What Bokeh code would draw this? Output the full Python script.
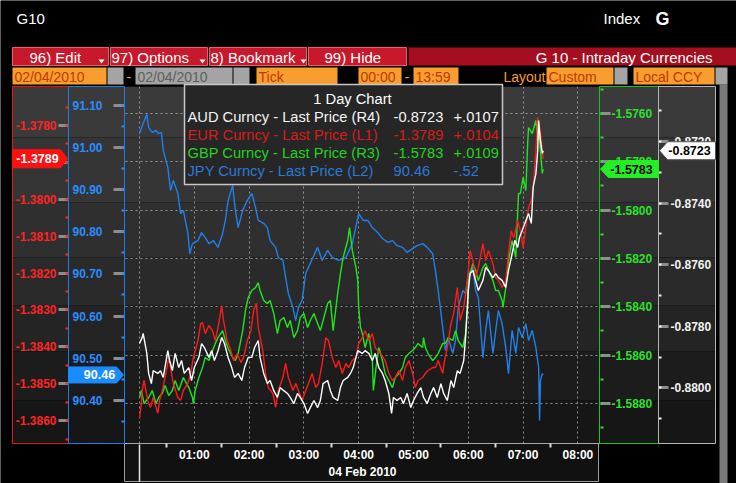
from bokeh.plotting import figure
from bokeh.models import (Range1d, LinearAxis, SingleIntervalTicker, FixedTicker,
                          PrintfTickFormatter, BoxAnnotation, PolyAnnotation, Label)
from bokeh.embed import file_html
from bokeh.resources import INLINE

# ---------------- data ----------------
hour_ticks = [60, 120, 180, 240, 300, 360, 420, 480]
hour_labels = ["01:00", "02:00", "03:00", "04:00", "05:00", "06:00", "07:00", "08:00"]
half_ticks = [30, 90, 150, 210, 270, 330, 390, 450]
date_label = "04 Feb 2010"

names = ["AUD Curncy - Last Price (R4)", "EUR Curncy - Last Price (L1)",
         "GBP Curncy - Last Price (R3)", "JPY Curncy - Last Price (L2)"]
changes = [0.0107, 0.0104, 0.0109, -0.52]

# minutes after midnight, 04 Feb 2010
eur_t = [0,2,3,5,9,12,15,20,22,25,28,32,34,37,42,45,48,53,56,59,64,67,69,72,76,80,83,86,90,92,
         96,100,103,107,111,114,118,122,125,128,130,135,138,141,146,149,152,157,160,163,168,171,174,178,182,185,189,193,196,200,
         204,207,211,215,218,222,226,229,233,237,240,244,247,251,255,258,264,269,273,277,280,284,288,291,295,299,302,305,310,313,
         316,321,324,327,332,334,337,341,344,348,351,355,359,362,365,368,371,376,379,382,387,390,393,397,401,404,407,410,414,417,
         420,424,426,429,431,434,436,437,439,441,442]
eur_v = [-1.38594,-1.38553,-1.38518,-1.38491,-1.38545,-1.38564,-1.38537,-1.38580,-1.38545,-1.38518,
         -1.38483,-1.38429,-1.38456,-1.38499,-1.38537,-1.38545,-1.38518,-1.38499,-1.38472,-1.38429,
         -1.38383,-1.38337,-1.38334,-1.38364,-1.38342,-1.38356,-1.38383,-1.38347,-1.38288,-1.38328,
         -1.38383,-1.38410,-1.38437,-1.38418,-1.38442,-1.38429,-1.38383,-1.38356,-1.38301,-1.38282,
         -1.38347,-1.38410,-1.38472,-1.38510,-1.38526,-1.38564,-1.38518,-1.38483,-1.38445,-1.38483,
         -1.38518,-1.38499,-1.38518,-1.38545,-1.38518,-1.38499,-1.38472,-1.38510,-1.38499,-1.38445,
         -1.38375,-1.38383,-1.38429,-1.38456,-1.38437,-1.38472,-1.38445,-1.38456,-1.38437,-1.38429,
         -1.38391,-1.38375,-1.38356,-1.38383,-1.38364,-1.38402,-1.38418,-1.38437,-1.38472,-1.38491,
         -1.38483,-1.38464,-1.38491,-1.38456,-1.38437,-1.38472,-1.38510,-1.38491,-1.38483,-1.38472,
         -1.38464,-1.38456,-1.38456,-1.38437,-1.38472,-1.38437,-1.38402,-1.38337,-1.38309,-1.38239,
         -1.38328,-1.38293,-1.38220,-1.38139,-1.38166,-1.38212,-1.38185,-1.38120,-1.38166,-1.38139,
         -1.38174,-1.38212,-1.38220,-1.38239,-1.38220,-1.38147,-1.38085,-1.38104,-1.38057,-1.38085,
         -1.38131,-1.38057,-1.38022,-1.38003,-1.37968,-1.37868,-1.37778,-1.37792,-1.37822,-1.37868,
         -1.37890]

jpy_t = [0,3,8,10,14,18,21,24,26,31,34,37,42,45,48,53,55,58,64,68,72,76,81,86,91,94,97,102,105,108,
         113,118,123,127,130,136,140,143,149,152,157,160,163,168,171,174,178,182,187,195,200,206,211,218,226,233,
         240,245,250,255,261,266,272,277,282,288,293,299,304,310,315,321,324,327,332,335,338,343,346,349,354,357,
         360,365,368,371,376,379,382,387,390,393,397,401,404,408,412,415,419,423,426,430,434,437,438,439,441,442]
jpy_v = [91.033,91.052,91.079,91.048,91.036,91.041,91.033,91.036,90.993,90.953,90.898,90.922,90.891,90.843,90.851,
         90.796,90.748,90.772,90.779,90.798,90.786,90.772,90.779,90.763,90.796,90.827,90.874,90.910,90.851,90.810,
         90.851,90.874,90.891,90.858,90.827,90.820,90.810,90.779,90.763,90.739,90.732,90.691,90.653,90.620,90.589,
         90.620,90.637,90.701,90.725,90.763,90.732,90.756,90.739,90.732,90.739,90.772,
         90.843,90.827,90.827,90.810,90.798,90.784,90.775,90.779,90.767,90.763,90.751,90.760,90.767,90.772,
         90.763,90.748,90.708,90.661,90.573,90.518,90.549,90.511,90.542,90.620,90.661,90.653,
         90.701,90.715,90.661,90.644,90.501,90.566,90.613,90.511,90.566,90.613,90.582,90.525,90.463,90.566,
         90.511,90.573,90.549,90.582,90.542,90.566,90.525,90.478,90.352,90.447,90.463,90.46]

gbp_t = [0,2,5,10,14,18,21,25,28,32,36,39,43,48,54,58,59,61,65,69,72,76,80,83,86,91,94,97,102,105,108,113,
         116,119,123,127,130,132,136,140,143,147,151,154,158,162,165,169,173,176,180,184,187,191,195,198,201,
         206,209,212,217,220,223,228,230,233,237,239,240,242,244,247,251,255,256,259,262,266,269,273,277,280,
         284,288,291,295,299,302,305,310,311,313,316,321,324,327,332,335,338,343,346,349,354,357,359,360,
         365,368,371,376,379,382,387,390,393,397,398,401,404,408,412,414,415,417,420,423,425,426,430,434,436,
         437,439,441,442]
gbp_v = [-1.58776,-1.58747,-1.58801,-1.58776,-1.58747,-1.58801,-1.58776,-1.58759,-1.58726,-1.58768,-1.58747,
         -1.58706,-1.58747,-1.58693,-1.58735,-1.58776,-1.58801,-1.58747,-1.58693,-1.58652,-1.58610,-1.58623,
         -1.58581,-1.58552,-1.58528,-1.58499,-1.58540,-1.58573,-1.58610,-1.58623,-1.58594,-1.58499,
         -1.58416,-1.58362,-1.58333,-1.58321,-1.58300,-1.58333,-1.58374,-1.58387,-1.58374,-1.58428,-1.58511,
         -1.58457,-1.58445,-1.58486,-1.58457,-1.58528,-1.58499,-1.58445,-1.58428,-1.58486,-1.58457,-1.58428,
         -1.58470,-1.58499,-1.58457,
         -1.58387,-1.58374,-1.58499,-1.58345,-1.58263,-1.58196,-1.58126,-1.58072,-1.58167,-1.58238,-1.58292,
         -1.58403,-1.58486,-1.58511,-1.58569,-1.58511,-1.58623,-1.58747,-1.58652,-1.58569,-1.58623,-1.58677,
         -1.58706,-1.58735,-1.58693,
         -1.58677,-1.58652,-1.58610,-1.58594,-1.58581,-1.58569,-1.58552,-1.58569,-1.58528,-1.58569,-1.58594,
         -1.58623,-1.58610,-1.58594,-1.58552,-1.58552,-1.58528,-1.58540,-1.58499,-1.58540,-1.58569,-1.58511,
         -1.58403,-1.58292,
         -1.58221,-1.58250,-1.58292,-1.58238,-1.58221,-1.58250,-1.58292,-1.58333,-1.58333,-1.58374,-1.58403,
         -1.58321,-1.58209,-1.58126,-1.58196,-1.58014,-1.57931,-1.57931,-1.57865,-1.57919,-1.57724,-1.57658,
         -1.57683,-1.57629,-1.57712,
         -1.57658,-1.57753,-1.57848,-1.57830]

aud_t = [0,3,4,8,10,13,15,20,23,26,31,33,36,39,43,46,49,54,57,60,65,68,71,76,79,82,86,90,93,97,101,104,108,
         112,115,119,123,126,130,132,136,140,143,147,151,154,158,162,165,169,173,176,180,184,187,191,195,198,
         201,206,209,212,217,220,223,228,231,234,239,244,247,251,255,258,262,266,269,273,276,278,282,286,289,
         293,297,300,304,308,311,315,319,322,326,330,333,337,341,344,348,351,355,357,359,360,362,365,368,371,
         376,379,382,387,390,393,397,401,404,408,411,414,416,419,423,426,429,431,434,436,437,439,441,442]
aud_v = [-0.87856,-0.87836,-0.87823,-0.87888,-0.87953,-0.87986,-0.87944,-0.87953,-0.87944,-0.87966,-0.87879,
         -0.87911,-0.87944,-0.87888,-0.87934,-0.87911,-0.87953,-0.87934,-0.87976,-0.87934,-0.87901,-0.87856,
         -0.87869,-0.87901,-0.87879,-0.87911,-0.87879,-0.87836,-0.87856,-0.87901,-0.87934,-0.87966,-0.87953,
         -0.87976,-0.87934,-0.87901,-0.87901,-0.87869,-0.87846,-0.87901,-0.87953,-0.87986,-0.87976,-0.88009,
         -0.88031,-0.87999,-0.88009,-0.88018,-0.88031,-0.88051,-0.88018,-0.88031,-0.88051,-0.88083,-0.88064,
         -0.88041,-0.88064,-0.88041,
         -0.87986,-0.87976,-0.88009,-0.88031,-0.88041,-0.87999,-0.87976,-0.87966,-0.87953,-0.87934,-0.87879,
         -0.87888,-0.87879,-0.87888,-0.87911,-0.87888,-0.87934,-0.87953,-0.87976,-0.88018,-0.88083,-0.88031,
         -0.88041,-0.88031,-0.88051,
         -0.88018,-0.88064,-0.88041,-0.88018,-0.87999,-0.88031,-0.88051,-0.88018,-0.87999,-0.88031,-0.87986,
         -0.88018,-0.88041,-0.87976,-0.87999,-0.87944,-0.87953,-0.87911,-0.87836,-0.87739,-0.87684,-0.87629,
         -0.87619,-0.87651,-0.87684,
         -0.87651,-0.87609,-0.87619,-0.87642,-0.87629,-0.87642,-0.87651,-0.87674,-0.87619,-0.87564,-0.87521,
         -0.87544,-0.87512,-0.87489,-0.87457,-0.87434,-0.87466,-0.87349,-0.87304,-0.87229,-0.87132,-0.87197,
         -0.87239,-0.87230]

# ---------------- layout ----------------
W, H = 736, 483
K = 60 / 54.8            # minutes per pixel of the time axis
T0_PX = 139              # canvas x of 00:00

def mx(x):
    """canvas x of a decoration -> minutes on the time scale"""
    return (x - T0_PX) * K

AUD_C, EUR_C, GBP_C, JPY_C = "#ffffff", "#ff1a1a", "#1ee61e", "#1f80ea"
FONT = "Liberation Sans"

# the frame spans the whole canvas; the chart region is a part of it
x_rng = Range1d(mx(0), mx(W))
eur_rng = Range1d(-1.3877019, -1.3746125)
jpy_rng = Range1d(90.202138, 91.349406)
gbp_rng = Range1d(-1.5913209, -1.5713209)
aud_rng = Range1d(-0.8831039, -0.8674221)
X0, X1 = mx(124), mx(600)      # chart region in minutes

p = figure(width=W, height=H, output_backend="svg", toolbar_location=None,
           x_range=x_rng, y_range=gbp_rng, x_axis_location=None, y_axis_location=None,
           min_border=0, background_fill_color="#000000",
           border_fill_color="#000000", outline_line_color=None)
p.extra_y_ranges = {"eur": eur_rng, "jpy": jpy_rng, "aud": aud_rng}

def box(x0, y0, x1, y1, fill=None, line=None, lw=1.0, level="annotation"):
    p.add_layout(BoxAnnotation(left=x0, right=x1, top=y0, bottom=y1,
                               left_units="canvas", right_units="canvas",
                               top_units="canvas", bottom_units="canvas",
                               fill_color=fill if fill else "#000000",
                               fill_alpha=1 if fill else 0,
                               line_color=line if line else "#000000",
                               line_alpha=1 if line else 0, line_width=lw, level=level))

def text(x, y, s, color, size, bold=False, align="left", level="annotation"):
    p.add_layout(Label(x=x, y=y, x_units="canvas", y_units="canvas", text=s,
                       text_color=color, text_font=FONT, text_font_size=f"{size}px",
                       text_font_style="bold" if bold else "normal", text_align=align,
                       text_baseline="middle", level=level))

bands = [(86, 137, "#3a3a3a"), (137, 202, "#353535"), (202, 257, "#2f2f2f"),
         (257, 305, "#2a2a2a"), (305, 351, "#242424"), (351, 400, "#1c1c1c"),
         (400, 443, "#161616")]
for t0, t1, col in bands:
    box(124, t0, 599, t1, fill=col, level="image")

# grids
p.xgrid.ticker = FixedTicker(ticks=[0] + hour_ticks)
p.ygrid.ticker = SingleIntervalTicker(interval=0.002)
for g in (p.xgrid, p.ygrid):
    g.grid_line_color = "#b8b8b8"
    g.grid_line_alpha = 0.75
    g.grid_line_dash = "2 3"
    g.grid_line_width = 1

# cover the grid outside the chart region (drawn after the grid)
box(0, 0, W, 86, fill="#000000", level="underlay")
box(0, 443, W, H, fill="#000000", level="underlay")
box(0, 86, 12, 443, fill="#000000", level="underlay")
box(715, 86, W, 443, fill="#000000", level="underlay")
for t0, t1, col in bands:
    box(12, t0, 124, t1, fill=col, level="underlay")
    box(599, t0, 715, t1, fill=col, level="underlay")
box(124, 443, 598, 481, fill="#111111", line="#9c9c9c", level="underlay")
box(719, 84, 727, H, fill="#7a7a7a", level="underlay")

# series
p.line(jpy_t, jpy_v, y_range_name="jpy", line_color=JPY_C, line_width=1.4)
p.line(gbp_t, gbp_v, line_color=GBP_C, line_width=1.4)
p.line(eur_t, eur_v, y_range_name="eur", line_color=EUR_C, line_width=1.4)
p.line(aud_t, aud_v, y_range_name="aud", line_color=AUD_C, line_width=1.4)

# y axes, fixed at the column edges
def add_y_axis(rname, interval, fmt, color, side, at, bounds, tick_out, standoff):
    ax = LinearAxis(y_range_name=rname, fixed_location=at, bounds=bounds,
                    ticker=SingleIntervalTicker(interval=interval, num_minor_ticks=2),
                    formatter=PrintfTickFormatter(format=fmt))
    ax.major_label_text_color = color
    ax.major_label_text_font = FONT
    ax.major_label_text_font_style = "bold"
    ax.major_label_text_font_size = "12px"
    ax.major_label_standoff = standoff
    ax.major_tick_out = tick_out
    ax.major_tick_in = 0
    ax.major_tick_line_color = "#8e8e8e"
    ax.major_tick_line_width = 3
    ax.minor_tick_out = 3
    ax.minor_tick_in = 0
    ax.minor_tick_line_color = color
    ax.minor_tick_line_width = 2
    ax.axis_line_color = None
    p.add_layout(ax, side)
    return ax

add_y_axis("jpy", 0.1, "%.2f", "#2a8cff", "left", X0, (90.35, 91.145), 11, 11)
add_y_axis("eur", 0.001, "%.4f", "#ff2424", "left", mx(68), (-1.386618, -1.3773), 10, 2)
add_y_axis("default", 0.002, "%.4f", "#2ee02e", "right", X1, (-1.5895, -1.5749), 10, 1)
add_y_axis("aud", 0.002, "%.4f", "#f2f2f2", "right", mx(658), (-0.8818, -0.8702), 10, 2)

# time axis
xa = LinearAxis(fixed_location=-1.589665, bounds=(X0, X1),
                ticker=FixedTicker(ticks=hour_ticks, minor_ticks=half_ticks))
xa.major_label_overrides = dict(zip(hour_ticks, hour_labels))
xa.major_label_text_color = "#ffffff"
xa.major_label_text_font = FONT
xa.major_label_text_font_style = "bold"
xa.major_label_text_font_size = "12px"
xa.major_label_standoff = 0
xa.major_tick_out = 0
xa.major_tick_in = 0
xa.minor_tick_out = 4
xa.minor_tick_in = 0
xa.minor_tick_line_color = "#dcdcdc"
xa.minor_tick_line_width = 2
xa.axis_line_color = "#a8a8a8"
xa.axis_label = date_label
xa.axis_label_text_color = "#ffffff"
xa.axis_label_text_font = FONT
xa.axis_label_text_font_style = "bold"
xa.axis_label_text_font_size = "12px"
xa.axis_label_standoff = 0
p.add_layout(xa, "below")

# column outlines
box(12, 86, 68, 443, line="#e01818")
box(68, 86, 124, 443, line="#1f7ce0")
box(599, 86, 658, 443, line="#20c020")
box(658, 86, 715, 443, line="#b4b4b4")
# midnight separator in the time-axis strip
p.add_layout(BoxAnnotation(left=0, right=0, top=444, bottom=481,
                           top_units="canvas", bottom_units="canvas",
                           fill_alpha=0, line_color="#e6e6e6", line_alpha=1, line_width=1.5))

# header
text(16, 18, "G10", "#ffffff", 15)
text(603, 18, "Index", "#ffffff", 15)
text(655, 18, "G", "#ffffff", 18, bold=True)

buttons = [(12, 108, 29, "96)  Edit"), (110, 207, 111, "97)  Options"),
           (209, 306, 210, "8)  Bookmark"), (308, 406, 324, "99)  Hide")]
for b0, b1, tx, s in buttons:
    box(b0, 47, b1, 65, fill="#c8182b", line="#e4606b")
    text(tx, 56.5, s, "#ffffff", 15)
for dx in (101, 202, 303):
    p.add_layout(PolyAnnotation(xs=[dx - 3, dx + 3, dx], ys=[59, 59, 63],
                                xs_units="canvas", ys_units="canvas", fill_color="#ffffff",
                                fill_alpha=1, line_alpha=0))
box(408, 47, W, 65, fill="#a50e1f")
text(712, 56.5, "G 10 - Intraday Currencies", "#ffffff", 15, align="right")

OR, OR_T = "#f99d2e", "#b93c00"
GR, GR_T = "#a4a4a4", "#5e5e5e"
box(12, 67, 106, 84, fill=OR)
text(14, 76, "02/04/2010", OR_T, 14)
box(107, 67, 123, 84, fill=GR)
text(126, 76, "-", OR, 14)
box(135, 67, 232, 84, fill=GR)
text(137, 76, "02/04/2010", GR_T, 14)
box(233, 67, 249, 84, fill=GR)
box(256, 67, 337, 84, fill=OR)
text(258, 76, "Tick", OR_T, 14)
box(358, 67, 401, 84, fill=OR)
text(360, 76, "00:00", OR_T, 14)
text(404, 76, "-", OR, 14)
box(413, 67, 458, 84, fill=OR)
text(415, 76, "13:59", OR_T, 14)
text(545, 76, "Layout", OR, 14, align="right")
box(546, 67, 613, 84, fill=OR)
text(548, 76, "Custom", OR_T, 14)
box(614, 67, 627, 84, fill=GR)
box(633, 67, 714, 84, fill=OR)
text(635, 76, "Local CCY", OR_T, 14)
box(715, 67, 727, 84, fill=GR)

# legend panel
box(184, 84, 502, 184, fill="#262626", line="#c8c8c8", lw=1.5)
text(352, 98, "1 Day Chart", "#ffffff", 14.7, align="center")
last_vals = [f"{aud_v[-1]:.4f}", f"{eur_v[-1]:.4f}", f"{gbp_v[-1]:.4f}", f"{jpy_v[-1]:.2f}"]
chg_txt = [f"{c:+.4f}".replace("0.", ".", 1) if abs(c) < 0.1 else f"{c:+.2f}".replace("0.", ".", 1)
           for c in changes]
leg_cols = ["#f4f4f4", "#d81c1c", "#22d322", "#2a7ad8"]
for i in range(4):
    yy = 116 + i * 18
    text(187, yy, names[i], leg_cols[i], 14.7)
    text(393, yy, last_vals[i], leg_cols[i], 14.7)
    text(453, yy, chg_txt[i], leg_cols[i], 14.7)

# last-price tags (drawn above everything, at the last value of each series)
def tag(rname, rng, v, far, body, tip, half_px, fill, line, tcol, s, tx):
    h = (rng.end - rng.start) * half_px / H
    p.patch([mx(far), mx(body), mx(tip), mx(body), mx(far)],
            [v + h, v + h, v, v - h, v - h], y_range_name=rname,
            fill_color=fill, fill_alpha=1, line_color=line, line_width=1, level="overlay")
    p.add_layout(Label(x=tx, y=v, x_units="canvas", y_units="data", y_range_name=rname,
                       text=s, text_color=tcol, text_font=FONT, text_font_size="12.5px",
                       text_font_style="bold", text_align="center", text_baseline="middle",
                       level="overlay"))

tag("eur", eur_rng, eur_v[-1], 12, 60, 67, 9, "#ff1010", "#ff1010", "#ffffff", last_vals[1], 37)
tag("jpy", jpy_rng, jpy_v[-1], 68, 116, 123, 8, "#1a8cff", "#1a8cff", "#ffffff", last_vals[3], 99)
tag("default", gbp_rng, gbp_v[-1], 658, 608, 600, 8.5, "#22f022", "#22f022", "#000000", last_vals[2], 631)
tag("aud", aud_rng, aud_v[-1], 715, 667, 659, 9, "#ffffff", "#505050", "#000000", last_vals[0], 689)

open("out.html", "w").write(file_html(p, INLINE))
